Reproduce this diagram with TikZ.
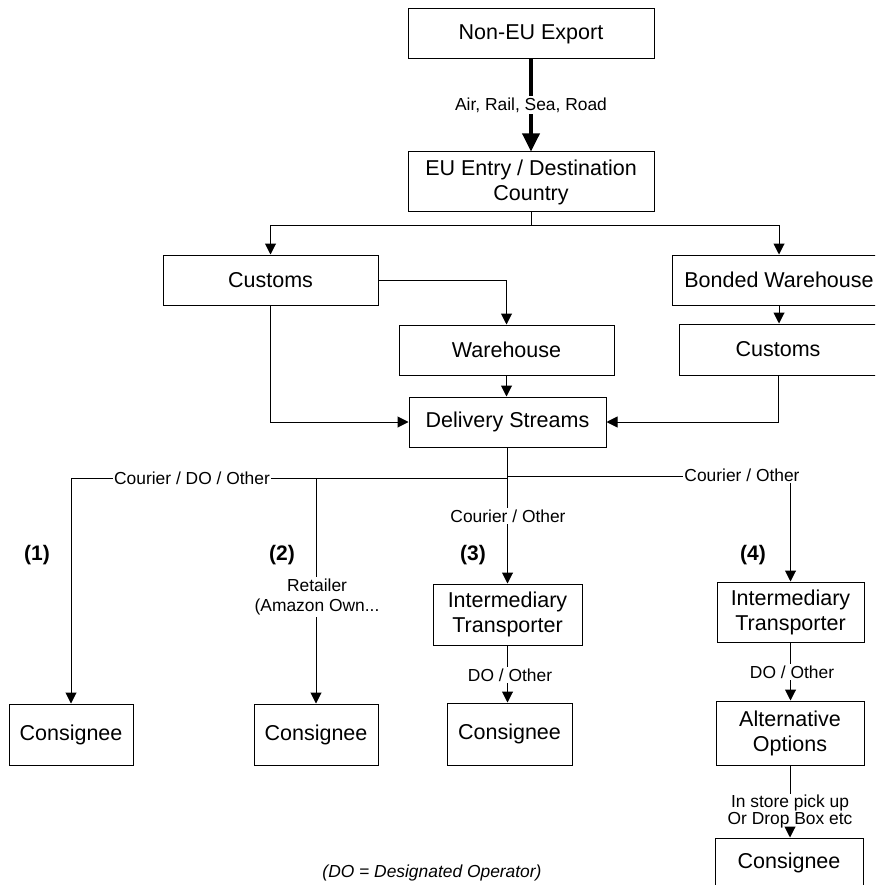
\documentclass[tikz,border=0pt]{standalone}
\usepackage{fontspec}
\setmainfont{Liberation Sans}
\usetikzlibrary{arrows.meta}
\newcommand\boxfont{\fontsize{21.5}{25}\selectfont}
\newcommand\lblfont{\fontsize{17.4}{20}\selectfont}
\newcommand\numfont{\fontsize{21}{24}\selectfont\bfseries}
\begin{document}
\begin{tikzpicture}[x=1pt,y=-1pt,
  box/.style={draw, line width=1pt, align=center, inner sep=0pt, font=\boxfont},
  lbl/.style={fill=white, inner sep=1.5pt, align=center, font=\lblfont},
  num/.style={inner sep=0pt, font=\numfont},
  link/.style={line width=1pt, -{Triangle[length=11pt,width=11pt]}},
  heavylink/.style={line width=3.5pt, -{Triangle[length=18pt,width=17pt]}}
]
\useasboundingbox (0,0) rectangle (875,885);
\clip (0,0) rectangle (875,885);

% main chain
\node[box, minimum width=246pt, minimum height=50pt] (export) at (531,34) {Non-EU Export};
\node[box, minimum width=246pt, minimum height=60pt] (entry) at (531,182) {EU Entry / Destination\\Country};
\node[box, minimum width=215pt, minimum height=50pt] (customsL) at (270.5,280) {Customs};
\node[box, minimum width=214pt, minimum height=50pt] (bonded) at (779,280) {Bonded Warehouse};
\node[box, minimum width=215pt, minimum height=50pt] (warehouse) at (506.5,350) {Warehouse};
\node[box, minimum width=198pt, minimum height=51pt] (customsR) at (778,349.5) {Customs};
\node[box, minimum width=197pt, minimum height=50pt] (delivery) at (507.5,422) {Delivery Streams};

% delivery branches
\node[box, minimum width=124pt, minimum height=61pt] (cons1) at (71,734.5) {Consignee};
\node[box, minimum width=124pt, minimum height=61pt] (cons2) at (316,734.5) {Consignee};
\node[box, minimum width=149pt, minimum height=61pt] (trans3) at (507.5,614.5) {Intermediary\\Transporter};
\node[box, minimum width=125pt, minimum height=62pt] (cons3) at (509.5,734) {Consignee};
\node[box, minimum width=147pt, minimum height=60pt] (trans4) at (790.5,612) {Intermediary\\Transporter};
\node[box, minimum width=148pt, minimum height=64pt] (alt) at (790,733) {Alternative\\Options};
\node[box, minimum width=148pt, minimum height=50pt] (cons4) at (789,863) {Consignee};

% junctions
\coordinate (split) at (531,226);
\coordinate (hubL) at (507.5,478);
\coordinate (hubR) at (507.5,476);
\coordinate (tap2) at (316,478);

% connectors
\draw[heavylink] (export) -- (entry);
\draw[line width=1pt] (entry.south) -- (split);
\draw[link] (split) -| (customsL.north);
\draw[link] (split) -| (bonded.north);
\draw[link] (customsL.east) -| (warehouse.north);
\draw[link] (warehouse.south) -- (warehouse.south |- delivery.north);
\draw[link] (bonded.south) -- (bonded.south |- customsR.north);
\draw[link] (customsL.south) |- (delivery.west);
\draw[link] (customsR.south) |- (delivery.east);

\draw[link] (delivery.south) -- (trans3.north);
\draw[link] (hubL) -| (cons1.north);
\draw[link] (tap2) -- (cons2.north);
\draw[link] (hubR) -| (trans4.north);
\draw[link] (trans3.south) -- (trans3.south |- cons3.north);
\draw[link] (trans4.south) -- (trans4.south |- alt.north);

% connector labels
\node[lbl] (lair) at (531,105) {Air, Rail, Sea, Road};
\node[lbl] (lcdo) at (192,478) {Courier / DO / Other};
\node[lbl] (lret) at (317,597) {Retailer\\(Amazon Own...};
\node[lbl] (lco3) at (508,516) {Courier / Other};
\node[lbl] (lco4) at (742,475) {Courier / Other};
\node[lbl] (ldo3) at (510,675) {DO / Other};
\node[lbl] (ldo4) at (792,672) {DO / Other};
\node[lbl, inner sep=0pt, font=\fontsize{17.4}{17}\selectfont] (lstore) at (790,811) {In store pick up\\Or Drop Box etc};

% last leg runs through its label
\draw[line width=1pt] (alt.south) -- (alt.south |- lstore.north);
\draw[link] (alt.south |- lstore.south) -- (alt.south |- cons4.north);

% stream numbers
\node[num] (n1) at (37,555) {(1)};
\node[num] (n2) at (282,555) {(2)};
\node[num] (n3) at (473,555) {(3)};
\node[num] (n4) at (753,555) {(4)};

% footnote
\node[inner sep=0pt, font=\lblfont\itshape] (note) at (432,873) {(DO = Designated Operator)};
\end{tikzpicture}
\end{document}
